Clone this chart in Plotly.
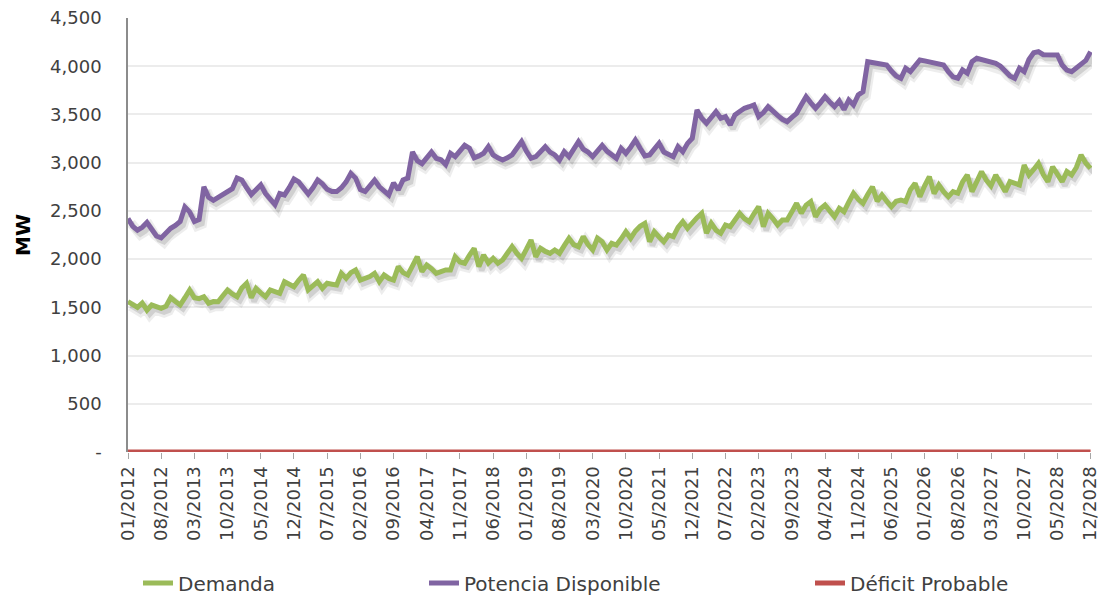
import plotly.graph_objects as go

# ---- data (monthly, 01/2012 .. 12/2028) ----
demanda = [
    1560, 1530, 1500, 1545, 1470, 1524, 1507, 1490, 1510, 1600, 1560, 1524,
    1600, 1680, 1600, 1590, 1610, 1542, 1560, 1558, 1620, 1680, 1640, 1610,
    1700, 1749, 1600, 1697, 1650, 1610, 1680, 1660, 1646, 1766, 1740, 1714,
    1780, 1835, 1680, 1720, 1766, 1697, 1749, 1740, 1732, 1853, 1801, 1860,
    1887, 1783, 1801, 1820, 1853, 1766, 1835, 1800, 1783, 1922, 1860, 1835,
    1930, 2025, 1870, 1939, 1900, 1853, 1870, 1887, 1887, 2025, 1970, 1957,
    2040, 2112, 1922, 2043, 1960, 2008, 1957, 1991, 2060, 2129, 2060, 2008,
    2100, 2198, 2025, 2112, 2080, 2060, 2095, 2060, 2140, 2216, 2150, 2129,
    2233, 2150, 2095, 2216, 2180, 2095, 2164, 2146, 2210, 2284, 2216, 2290,
    2340, 2371, 2181, 2284, 2230, 2181, 2250, 2233, 2330, 2388, 2319, 2380,
    2430, 2475, 2268, 2371, 2300, 2268, 2354, 2336, 2400, 2475, 2420, 2388,
    2470, 2544, 2336, 2475, 2420, 2354, 2406, 2406, 2490, 2579, 2475, 2560,
    2596, 2440, 2520, 2561, 2500, 2440, 2527, 2492, 2590, 2683, 2620, 2579,
    2670, 2751, 2600, 2665, 2600, 2544, 2600, 2613, 2596, 2720, 2786, 2648,
    2760, 2855, 2680, 2769, 2700, 2648, 2700, 2683, 2800, 2872, 2700, 2800,
    2907, 2820, 2760, 2872, 2780, 2700, 2803, 2780, 2769, 2976, 2872, 2930,
    2993, 2880, 2803, 2958, 2880, 2803, 2907, 2872, 2950, 3080, 2993, 2941,
]

potencia = [
    2420, 2340, 2300, 2330, 2380, 2300, 2240, 2220, 2280, 2320, 2350, 2390,
    2540, 2490, 2390, 2410, 2750, 2640, 2610, 2640, 2665, 2700, 2730, 2840,
    2820, 2740, 2670, 2720, 2770, 2680, 2620, 2565, 2680, 2665, 2740, 2830,
    2800, 2740, 2675, 2740, 2820, 2780, 2724, 2700, 2700, 2740, 2800, 2890,
    2840, 2720, 2700, 2760, 2820, 2750, 2700, 2665, 2790, 2717, 2820, 2840,
    3110, 3020, 2990, 3050, 3110, 3045, 3030, 2980, 3097, 3062, 3120, 3180,
    3150, 3050, 3070, 3097, 3166, 3080, 3050, 3028, 3050, 3080, 3150, 3218,
    3120, 3045, 3062, 3120, 3166, 3110, 3080, 3028, 3114, 3062, 3140, 3218,
    3140, 3110, 3062, 3120, 3180, 3120, 3080, 3045, 3149, 3097, 3160, 3235,
    3150, 3070, 3080, 3150, 3201, 3110, 3080, 3062, 3166, 3114, 3200, 3253,
    3546, 3460, 3408, 3470, 3529, 3460, 3477, 3391, 3495, 3530, 3564, 3580,
    3598, 3477, 3520, 3581, 3530, 3490, 3450, 3425, 3470, 3512, 3600, 3684,
    3620, 3564, 3620, 3684, 3630, 3581, 3640, 3550, 3650, 3598, 3702, 3736,
    4047, 4040, 4030, 4020, 4013, 3950, 3900, 3875, 3979, 3944, 4010, 4065,
    4055, 4047, 4035, 4030, 4013, 3944, 3890, 3875, 3961, 3927, 4047, 4082,
    4070, 4050, 4040, 4030, 4000, 3944, 3900, 3875, 3979, 3944, 4070, 4140,
    4151, 4120, 4117, 4110, 4117, 4013, 3960, 3944, 3980, 4010, 4060, 4151,
]

years = list(range(2012, 2029))
months = [f"{m:02d}/{y}" for y in years for m in range(1, 13)]
deficit = [0] * len(months)

y_ticks = [0, 500, 1000, 1500, 2000, 2500, 3000, 3500, 4000, 4500]
y_tick_text = ["-", "500", "1,000", "1,500", "2,000", "2,500", "3,000", "3,500", "4,000", "4,500"]

x_idx = list(range(len(months)))
x_tick_idx = x_idx[::7]
x_tick_text = [months[i] for i in x_tick_idx]

GREEN = "#9bbb59"
PURPLE = "#8064a2"
RED = "#c0504d"
FONT = "DejaVu Sans"
TXT = "#404040"

fig = go.Figure()

# soft drop shadows (same data, nudged right/down)
for series in (potencia, demanda):
    fig.add_trace(go.Scatter(
        x=[i + 0.6 for i in x_idx], y=[v - 45 for v in series], mode="lines",
        line=dict(color="rgba(0,0,0,0.07)", width=10), hoverinfo="skip", showlegend=False))
    fig.add_trace(go.Scatter(
        x=[i + 0.6 for i in x_idx], y=[v - 40 for v in series], mode="lines",
        line=dict(color="rgba(0,0,0,0.12)", width=5.5), hoverinfo="skip", showlegend=False))

fig.add_trace(go.Scatter(x=x_idx, y=deficit, mode="lines", name="Déficit Probable",
                         line=dict(color=RED, width=5), legend="legend3", cliponaxis=False))
fig.add_trace(go.Scatter(x=x_idx, y=demanda, mode="lines", name="Demanda",
                         line=dict(color=GREEN, width=5), legend="legend"))
fig.add_trace(go.Scatter(x=x_idx, y=potencia, mode="lines", name="Potencia Disponible",
                         line=dict(color=PURPLE, width=5), legend="legend2"))

# page has an 8px body margin; the figure starts at page (8, 8)
OFF = 8
W, H = 1106 - OFF, 597 - OFF
PLOT_L, PLOT_R, PLOT_T, PLOT_B = 128, 1092, 18, 452   # target page pixels
L, T = PLOT_L - OFF, PLOT_T - OFF
R = W - (PLOT_R - OFF)
B = H - (PLOT_B - OFF)
pw, ph = PLOT_R - PLOT_L, PLOT_B - PLOT_T

def lx(px):
    return (px - PLOT_L) / pw

ly = (PLOT_B - 583) / ph
leg_common = dict(orientation="h", yanchor="middle", y=ly, xanchor="left",
                  font=dict(family=FONT, size=20, color=TXT), bgcolor="rgba(0,0,0,0)",
                  itemwidth=30)

fig.update_layout(
    width=W, height=H,
    margin=dict(l=L, r=R, t=T, b=B, autoexpand=False),
    paper_bgcolor="white", plot_bgcolor="white",
    font=dict(family=FONT, color=TXT),
    legend=dict(x=lx(138), **leg_common),
    legend2=dict(x=lx(424), **leg_common),
    legend3=dict(x=lx(810), **leg_common),
    xaxis=dict(
        range=[0, 203.3], tickmode="array", tickvals=x_tick_idx, ticktext=x_tick_text,
        tickangle=-90, tickfont=dict(family=FONT, size=18, color=TXT),
        showgrid=False, zeroline=False, showline=False, ticklabeloverflow="allow",
        ticks="outside", ticklen=6, tickcolor="#a6a6a6",
    ),
    yaxis=dict(
        range=[0, 4500], tickmode="array", tickvals=y_ticks, ticktext=y_tick_text,
        tickfont=dict(family=FONT, size=18, color=TXT), ticklabeloverflow="allow",
        showgrid=True, gridcolor="#ececec", gridwidth=1.5,
        zeroline=False, showline=True, linecolor="#8c8c8c", linewidth=1.5,
        ticks="", ticklabelstandoff=21,
        title=dict(text="<b>MW</b>", font=dict(family="DejaVu Sans", size=20, color="#000000"), standoff=14),
    ),
)

fig.write_html("out.html")
